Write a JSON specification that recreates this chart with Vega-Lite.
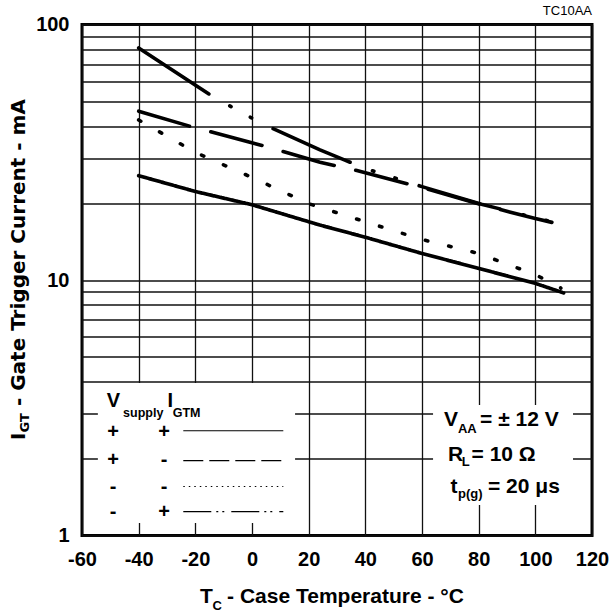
{
  "$schema": "https://vega.github.io/schema/vega-lite/v6.json",
  "width": 510,
  "height": 511,
  "autosize": {"type": "none"},
  "padding": {"left": 82, "top": 24.5, "right": 19, "bottom": 77.5},
  "background": "white",
  "config": {
    "font": "Liberation Sans",
    "view": {"stroke": "#000", "strokeWidth": 3},
    "axis": {"grid": true, "gridColor": "#111", "gridWidth": 1.3, "gridOpacity": 1, "ticks": false, "domain": false, "labelFontSize": 20, "labelFontWeight": "bold", "labelColor": "#000", "labelFont": "Liberation Sans", "title": null, "labelOverlap": false, "labelBound": false, "labelFlush": false}
  },
  "resolve": {"scale": {"strokeDash": "independent"}},
  "datasets": {
    "curves": [
      {"series": "pp", "T": -40, "I": 25.6}, {"series": "pp", "T": -20, "I": 22.2}, {"series": "pp", "T": 0, "I": 19.7}, {"series": "pp", "T": 17, "I": 17.3}, {"series": "pp", "T": 24, "I": 16.4}, {"series": "pp", "T": 40, "I": 14.7}, {"series": "pp", "T": 60, "I": 12.7}, {"series": "pp", "T": 80, "I": 11.1}, {"series": "pp", "T": 100, "I": 9.7}, {"series": "pp", "T": 110, "I": 8.9},
      {"series": "pm", "T": -40, "I": 45.8}, {"series": "pm", "T": -21, "I": 39.7}, {"series": "pm", "T": 5, "I": 33.3}, {"series": "pm", "T": 24, "I": 28.9}, {"series": "pm", "T": 37, "I": 26.8}, {"series": "pm", "T": 60, "I": 23.0}, {"series": "pm", "T": 81, "I": 19.7}, {"series": "pm", "T": 100, "I": 17.4}, {"series": "pm", "T": 110, "I": 16.4},
      {"series": "mm", "T": -40, "I": 42.3}, {"series": "mm", "T": -20, "I": 31.6}, {"series": "mm", "T": 0, "I": 25.2}, {"series": "mm", "T": 20, "I": 19.9}, {"series": "mm", "T": 40, "I": 16.9}, {"series": "mm", "T": 60, "I": 14.4}, {"series": "mm", "T": 80, "I": 12.7}, {"series": "mm", "T": 100, "I": 10.5}, {"series": "mm", "T": 109, "I": 9.3},
      {"series": "mp", "T": -40, "I": 81}, {"series": "mp", "T": -14, "I": 52.4}, {"series": "mp", "T": 0, "I": 43}, {"series": "mp", "T": 7, "I": 39.3}, {"series": "mp", "T": 24, "I": 32.3}, {"series": "mp", "T": 33, "I": 29.4}, {"series": "mp", "T": 40, "I": 27.3}, {"series": "mp", "T": 60, "I": 23.2}, {"series": "mp", "T": 81, "I": 19.8}, {"series": "mp", "T": 100, "I": 17.5}, {"series": "mp", "T": 110, "I": 16.5}
    ],
    "boxes": [
      {"T": -54.4, "T2": 15.2, "I": 3.95, "I2": 1.12},
      {"T": 63.9, "T2": 113.3, "I": 3.24, "I2": 1.316}
    ],
    "samples": [
      {"series": "pp", "T": -24.25, "T2": 11.05, "I": 2.57},
      {"series": "pm", "T": -24.25, "T2": 11.05, "I": 1.963},
      {"series": "mm", "T": -24.25, "T2": 11.05, "I": 1.555},
      {"series": "mp", "T": -24.25, "T2": 11.05, "I": 1.24}
    ],
    "texts": [
      {"role": "lmain", "T": -51.3, "I": 3.19, "text": "V"},
      {"role": "lsub", "T": -45.5, "I": 2.92, "text": "supply"},
      {"role": "lmain", "T": -29.8, "I": 3.19, "text": "I"},
      {"role": "lsub", "T": -28.0, "I": 2.92, "text": "GTM"},
      {"role": "sym", "T": -49, "I": 2.54, "text": "+"},
      {"role": "sym", "T": -31, "I": 2.54, "text": "+"},
      {"role": "sym", "T": -49, "I": 1.975, "text": "+"},
      {"role": "sym", "T": -31, "I": 1.975, "text": "-"},
      {"role": "sym", "T": -49, "I": 1.555, "text": "-"},
      {"role": "sym", "T": -31, "I": 1.555, "text": "-"},
      {"role": "sym", "T": -49, "I": 1.24, "text": "-"},
      {"role": "sym", "T": -31, "I": 1.24, "text": "+"},
      {"role": "rmain", "T": 67.8, "I": 2.68, "text": "V"},
      {"role": "rsub", "T": 72.7, "I": 2.53, "text": "AA"},
      {"role": "rmain", "T": 80.5, "I": 2.68, "text": "= ± 12 V"},
      {"role": "rmain", "T": 69.2, "I": 1.96, "text": "R"},
      {"role": "rsub", "T": 74.0, "I": 1.87, "text": "L"},
      {"role": "rmain", "T": 77.5, "I": 1.96, "text": "= 10 Ω"},
      {"role": "rmain", "T": 70.1, "I": 1.47, "text": "t"},
      {"role": "rsub", "T": 72.7, "I": 1.40, "text": "p(g)"},
      {"role": "rmain", "T": 83.3, "I": 1.47, "text": "= 20 μs"},
      {"role": "xmain", "T": -18.35, "I": 0.543, "text": "T"},
      {"role": "xsub", "T": -13.9, "I": 0.511, "text": "C"},
      {"role": "xmain", "T": -8.8, "I": 0.543, "text": "- Case Temperature - °C"},
      {"role": "ymain", "T": -80.1, "I": 2.365, "text": "I"},
      {"role": "ysub", "T": -78.7, "I": 2.53, "text": "GT"},
      {"role": "ymain", "T": -80.1, "I": 3.21, "text": "- Gate Trigger Current - mA"},
      {"role": "code", "T": 120, "I": 108.9, "text": "TC10AA"}
    ]
  },
  "encoding": {
    "x": {"field": "T", "type": "quantitative", "scale": {"domain": [-60, 120], "nice": false, "zero": false}, "axis": {"values": [-60, -40, -20, 0, 20, 40, 60, 80, 100, 120], "labelExpr": "replace(datum.label, '−', '-')", "labelPadding": 14}},
    "y": {"field": "I", "type": "quantitative", "scale": {"type": "log", "domain": [1, 100], "nice": false}, "axis": {"values": [1, 2, 3, 4, 5, 6, 7, 8, 9, 10, 20, 30, 40, 50, 60, 70, 80, 90, 100], "format": "d", "labelExpr": "datum.value == 1 || datum.value == 10 || datum.value == 100 ? datum.label : ''", "labelPadding": 13}}
  },
  "layer": [
    {
      "data": {"name": "boxes"},
      "mark": {"type": "rect", "fill": "white", "stroke": null},
      "encoding": {"x2": {"field": "T2"}, "y2": {"field": "I2"}}
    },
    {
      "data": {"name": "curves"},
      "mark": {"type": "line", "stroke": "#000", "strokeWidth": 3.6, "strokeCap": "round", "clip": true},
      "encoding": {
        "detail": {"field": "series"},
        "order": {"field": "T", "type": "quantitative"},
        "strokeDash": {"field": "series", "type": "nominal", "legend": null, "scale": {"domain": ["pp", "pm", "mm", "mp"], "range": [[1, 0], [53, 22], [2.5, 21.5], [84, 24, 1.5, 22, 1.5, 24]]}}
      }
    },
    {
      "data": {"name": "samples"},
      "mark": {"type": "rule", "stroke": "#000", "strokeWidth": 1.2},
      "encoding": {
        "x2": {"field": "T2"},
        "strokeDash": {"field": "series", "type": "nominal", "legend": null, "scale": {"domain": ["pp", "pm", "mm", "mp"], "range": [[1, 0], [20, 6], [1.5, 4], [28, 5, 2, 4, 2, 7]]}}
      }
    },
    {
      "data": {"name": "texts"},
      "transform": [{"filter": "datum.role == 'lmain'"}],
      "mark": {"type": "text", "align": "left", "baseline": "alphabetic", "fontSize": 20, "fontWeight": "bold", "color": "#000"},
      "encoding": {"text": {"field": "text"}}
    },
    {
      "data": {"name": "texts"},
      "transform": [{"filter": "datum.role == 'lsub'"}],
      "mark": {"type": "text", "align": "left", "baseline": "alphabetic", "fontSize": 12.5, "fontWeight": "bold", "color": "#000"},
      "encoding": {"text": {"field": "text"}}
    },
    {
      "data": {"name": "texts"},
      "transform": [{"filter": "datum.role == 'sym'"}],
      "mark": {"type": "text", "align": "center", "baseline": "middle", "fontSize": 20, "fontWeight": "bold", "color": "#000"},
      "encoding": {"text": {"field": "text"}}
    },
    {
      "data": {"name": "texts"},
      "transform": [{"filter": "datum.role == 'rmain'"}],
      "mark": {"type": "text", "align": "left", "baseline": "alphabetic", "fontSize": 21, "fontWeight": "bold", "color": "#000"},
      "encoding": {"text": {"field": "text"}}
    },
    {
      "data": {"name": "texts"},
      "transform": [{"filter": "datum.role == 'rsub'"}],
      "mark": {"type": "text", "align": "left", "baseline": "alphabetic", "fontSize": 13, "fontWeight": "bold", "color": "#000"},
      "encoding": {"text": {"field": "text"}}
    },
    {
      "data": {"name": "texts"},
      "transform": [{"filter": "datum.role == 'xmain'"}],
      "mark": {"type": "text", "align": "left", "baseline": "alphabetic", "fontSize": 21, "fontWeight": "bold", "color": "#000", "clip": false},
      "encoding": {"text": {"field": "text"}}
    },
    {
      "data": {"name": "texts"},
      "transform": [{"filter": "datum.role == 'xsub'"}],
      "mark": {"type": "text", "align": "left", "baseline": "alphabetic", "fontSize": 13, "fontWeight": "bold", "color": "#000", "clip": false},
      "encoding": {"text": {"field": "text"}}
    },
    {
      "data": {"name": "texts"},
      "transform": [{"filter": "datum.role == 'ymain'"}],
      "mark": {"type": "text", "align": "left", "baseline": "alphabetic", "angle": 270, "font": "DejaVu Sans", "fontSize": 20, "fontWeight": "bold", "color": "#000", "clip": false},
      "encoding": {"text": {"field": "text"}}
    },
    {
      "data": {"name": "texts"},
      "transform": [{"filter": "datum.role == 'ysub'"}],
      "mark": {"type": "text", "align": "left", "baseline": "alphabetic", "angle": 270, "font": "DejaVu Sans", "fontSize": 13, "fontWeight": "bold", "color": "#000", "clip": false},
      "encoding": {"text": {"field": "text"}}
    },
    {
      "data": {"name": "texts"},
      "transform": [{"filter": "datum.role == 'code'"}],
      "mark": {"type": "text", "align": "right", "baseline": "alphabetic", "fontSize": 13, "color": "#000", "clip": false},
      "encoding": {"text": {"field": "text"}}
    }
  ]
}
